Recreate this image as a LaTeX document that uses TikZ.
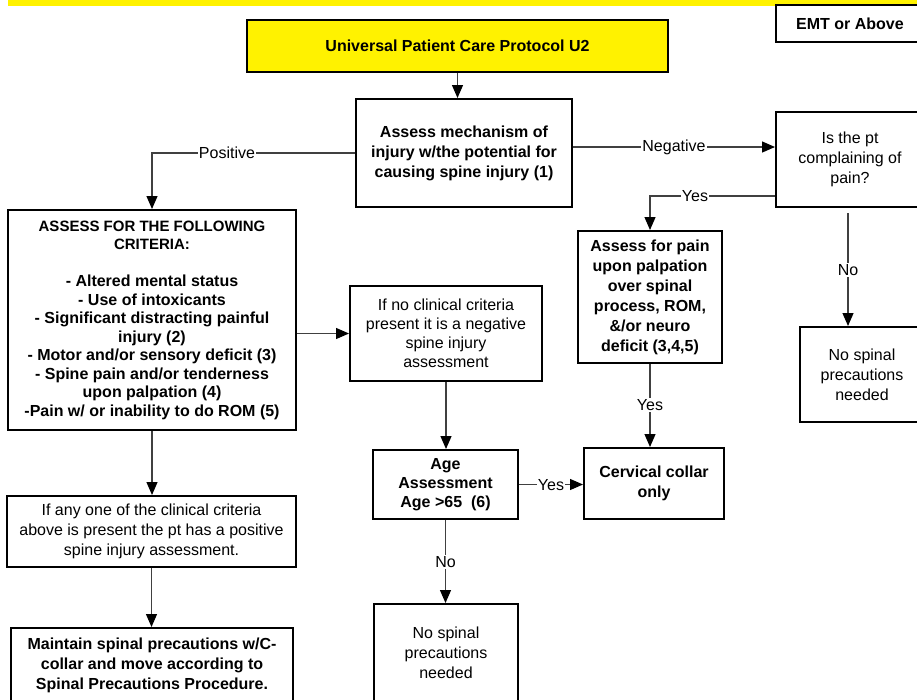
\documentclass[tikz,border=0pt]{standalone}
\usepackage{fontspec}
\setmainfont{Liberation Sans}
\usetikzlibrary{arrows.meta}
\begin{document}
\begin{tikzpicture}[x=1pt,y=-1pt,
  box/.style={draw=black,line width=2pt,rectangle,inner sep=0pt,align=center,
    font=\fontsize{16}{20}\selectfont},
  bbox/.style={box,font=\bfseries\fontsize{16}{20}\selectfont},
  wire/.style={draw=black!75,line width=1.2pt},
  conn/.style={wire,-{Triangle[length=13pt,width=11pt,color=black]}},
  lbl/.style={fill=white,inner sep=1pt,font=\fontsize{16}{19}\selectfont}]
\useasboundingbox (0,0) rectangle (917,699);
\clip (0,0) rectangle (917,699);

% title band
\fill[yellow] (8,0) rectangle (917,6);

% boxes
\node[bbox,fill=yellow,minimum width=421pt,minimum height=52pt] (U) at (457.5,46)
  {Universal Patient Care Protocol U2};
\node[bbox,minimum width=148pt,minimum height=37pt] (EMT) at (850,23.5) {EMT or Above};
\node[bbox,minimum width=216pt,minimum height=108pt] (A) at (464,153)
  {Assess mechanism of\\injury w/the potential for\\causing spine injury (1)};
\node[box,minimum width=148pt,minimum height=95pt] (P) at (850,159.5)
  {Is the pt\\complaining of\\pain?};
\node[box,minimum width=124pt,minimum height=95pt] (NS1) at (862,374.5)
  {No spinal\\precautions\\needed};
\node[bbox,minimum width=144pt,minimum height=132pt] (AP) at (650,297)
  {Assess for pain\\upon palpation\\over spinal\\process, ROM,\\\&/or neuro\\deficit (3,4,5)};
\node[bbox,minimum width=140pt,minimum height=71pt] (CC) at (654,483.5)
  {Cervical collar\\only};
\node[bbox,minimum width=288pt,minimum height=220pt,
  font=\bfseries\fontsize{16}{18.5}\selectfont] (C) at (152,320)
  {{\fontsize{15}{18.5}\selectfont ASSESS FOR THE FOLLOWING}\\
   {\fontsize{15}{18.5}\selectfont CRITERIA:}\\~\\- Altered mental status\\- Use of intoxicants\\
   - Significant distracting painful\\injury (2)\\- Motor and/or sensory deficit (3)\\
   - Spine pain and/or tenderness\\upon palpation (4)\\-Pain w/ or inability to do ROM (5)};
\node[box,minimum width=192pt,minimum height=95pt,
  font=\fontsize{16}{19}\selectfont] (IN) at (446,333.5)
  {If no clinical criteria\\present it is a negative\\spine injury\\assessment};
\node[bbox,minimum width=145pt,minimum height=69pt,
  font=\bfseries\fontsize{16}{19}\selectfont] (AGE) at (445.5,484.5)
  {Age\\Assessment\\Age >65\ \ (6)};
\node[box,minimum width=144pt,minimum height=98pt] (NS2) at (446,653)
  {No spinal\\precautions\\needed};
\node[box,minimum width=289pt,minimum height=71pt] (IA) at (151.5,531.5)
  {If any one of the clinical criteria\\above is present the pt has a positive\\spine injury assessment.};
\node[bbox,minimum width=282pt,minimum height=74pt] (MT) at (152,665)
  {Maintain spinal precautions w/C-\\collar and move according to\\Spinal Precautions Procedure.};

% connectors
\draw[conn] (U.south) -- (U.south |- A.north);
\draw[conn] (A.west) -| (C.north);
\draw[conn] (A.east |- 0,147) -- (P.west |- 0,147);
\draw[conn] (P.west |- 0,196) -| (AP.north);
\draw[conn] (848,213) -- (848,0 |- NS1.north);
\draw[conn] (AP.south) -- (AP.south |- CC.north);
\draw[conn] (C.east |- IN.west) -- (IN.west);
\draw[conn] (IN.south) -- (IN.south |- AGE.north);
\draw[conn] (AGE.east) -- (AGE.east -| CC.west);
\draw[conn] (AGE.south) -- (AGE.south |- NS2.north);
\draw[conn] (C.south) -- (C.south |- IA.north);
\draw[conn] (IA.south) -- (IA.south |- MT.north);

% connector labels
\node[lbl] (lpos) at (227,153) {Positive};
\node[lbl] (lneg) at (674,147) {Negative};
\node[lbl] (lyes1) at (695,196) {Yes};
\node[lbl] (lno1) at (848,270) {No};
\node[lbl] (lyes2) at (650,405) {Yes};
\node[lbl] (lyes3) at (551,485) {Yes};
\node[lbl] (lno2) at (445.5,562) {No};
\end{tikzpicture}
\end{document}
